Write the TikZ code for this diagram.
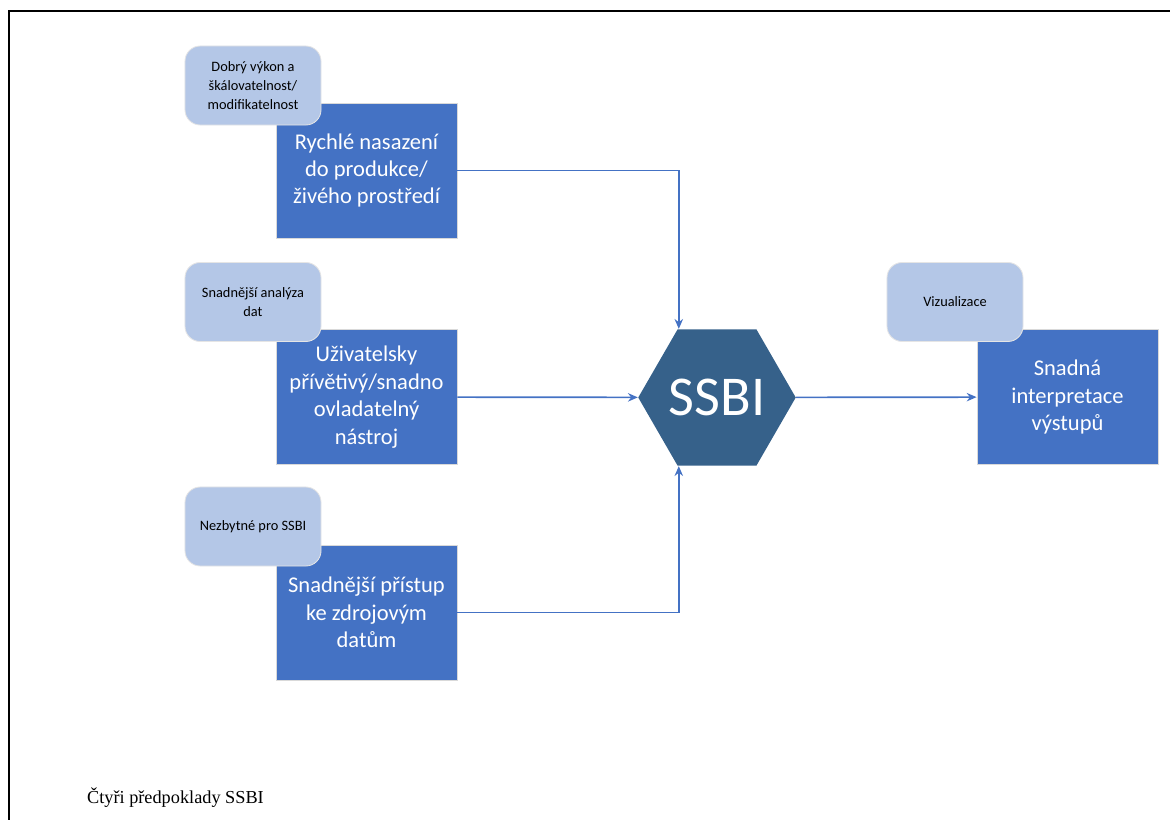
\documentclass[tikz,border=0pt]{standalone}
\usepackage{fontspec}
\setmainfont{Carlito}
\newfontfamily\captionfont{Liberation Serif}
\usetikzlibrary{arrows,arrows.meta,shapes.geometric}
\definecolor{boxblue}{HTML}{4472C4}
\definecolor{tagblue}{HTML}{B4C7E7}
\definecolor{hexblue}{HTML}{36618A}

\begin{document}
\begin{tikzpicture}[x=0.025cm,y=-0.025cm,>=stealth',semithick]
  \tikzstyle{goal} = [rectangle, fill=boxblue, draw=black!15, text=white,
    minimum width=4.525cm, minimum height=3.375cm, align=center,
    font=\fontsize{16}{19.5}\selectfont]
  \tikzstyle{tag} = [rectangle, rounded corners=0.38cm, fill=tagblue,
    draw=black!10, minimum width=3.4cm, minimum height=1.975cm,
    align=center, font=\fontsize{10.2}{13.5}\selectfont]
  \tikzstyle{link} = [-{Stealth[length=7pt,width=6pt]}, draw=boxblue,
    line width=1.2pt]
  \useasboundingbox (0,0) rectangle (1170,820);
  \draw[line width=1.5pt] (9,820) -- (9,11) -- (1170,11);

  % boxes first, the tags sit on top of them
  \node[goal] (r1) at (366.5,170.5) {Rychlé nasazení\\do produkce/\\živého prostředí};
  \node[goal] (r2) at (366.5,397)   {Uživatelsky\\přívětivý/snadno\\ovladatelný\\nástroj};
  \node[goal] (r3) at (366.5,612.5) {Snadnější přístup\\ke zdrojovým\\datům};
  \node[goal] (r4) at (1067.5,397)  {Snadná\\interpretace\\výstupů};
  \node[tag] (t1) at (253,85.5)  {Dobrý výkon a\\škálovatelnost/\\modifikatelnost};
  \node[tag] (t2) at (253,302)   {Snadnější analýza\\dat};
  \node[tag] (t3) at (253,526.5) {Nezbytné pro SSBI};
  \node[tag] (t4) at (955,302)   {Vizualizace};
  \node[regular polygon, regular polygon sides=6, minimum size=3.9cm,
        inner sep=0pt, fill=hexblue, text=white,
        font=\fontsize{40}{40}\selectfont] (ssbi) at (717,397.5) {SSBI};

  \draw[link] (r1.east) -| ([xshift=1pt]ssbi.corner 2);
  \draw[link] (r2) -- (ssbi);
  \draw[link] (r3.east) -| ([xshift=1pt]ssbi.corner 4);
  \draw[link] (ssbi) -- (r4);

  \node[anchor=base west, font=\captionfont\fontsize{13}{15}\selectfont]
    (caption) at (82,803) {Čtyři předpoklady SSBI};
\end{tikzpicture}
\end{document}
